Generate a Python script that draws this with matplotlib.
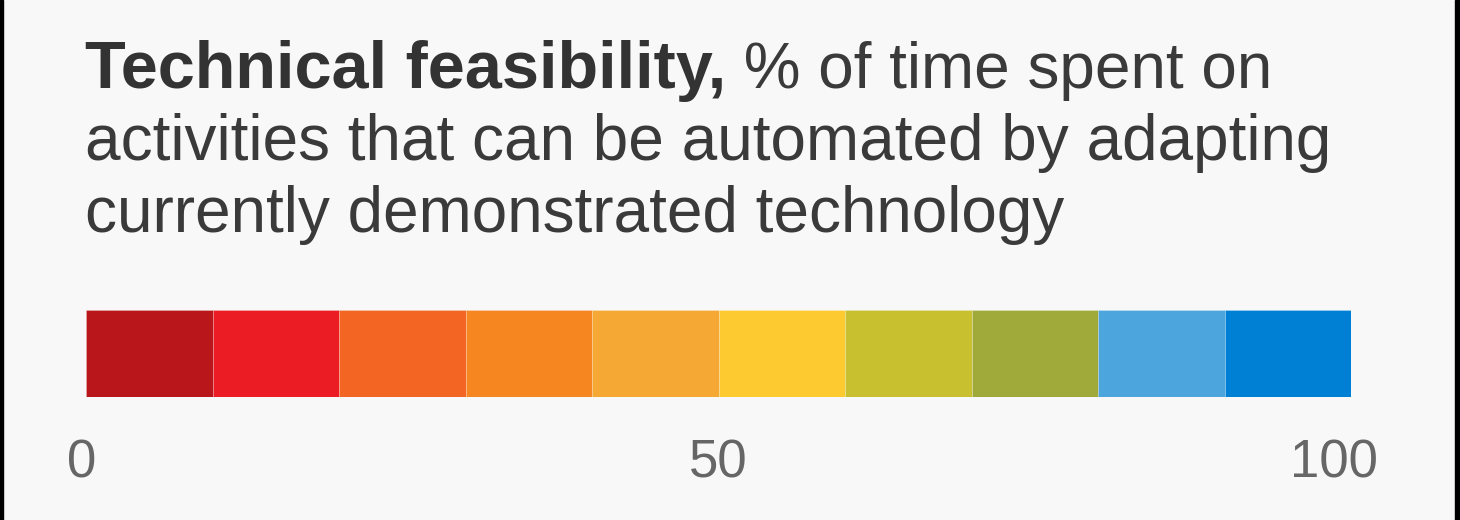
import matplotlib
matplotlib.use("Agg")
import matplotlib.pyplot as plt
from matplotlib.patches import Rectangle
from matplotlib.transforms import offset_copy

plt.rcParams['font.family'] = ['Liberation Sans', 'DejaVu Sans']

# feasibility bins (% of time automatable) and their colours
bin_starts = [0, 10, 20, 30, 40, 50, 60, 70, 80, 90]
bin_width = 10
bin_colors = ['#B9161B', '#EC1C24', '#F26522', '#F58620', '#F5A833',
              '#FDCB2F', '#C8C02E', '#A0AA3A', '#4CA6DD', '#0080D5']
tick_values = [0, 50, 100]

title_bold = "Technical feasibility,"
title_rest = [" % of time spent on",
              "activities that can be automated by adapting",
              "currently demonstrated technology"]

W, H = 1460, 520
fig = plt.figure(figsize=(W / 100, H / 100), dpi=100, facecolor='#F8F8F8')

# dark strips down both sides
fig.add_artist(Rectangle((0, 0), 3 / W, 1, transform=fig.transFigure,
                         color='black', zorder=10))
fig.add_artist(Rectangle((1455 / W, 0), 5 / W, 1, transform=fig.transFigure,
                         color='black', zorder=10))

# heading: bold lead-in, then regular text on the same line
x0 = 85 / W
t = fig.text(x0, 1 - 88 / H, title_bold, fontsize=48, fontweight='bold',
             color='#333333', va='baseline', ha='left')
fig.canvas.draw()
bb = t.get_window_extent(renderer=fig.canvas.get_renderer())
fig.text(bb.x1 / W, 1 - 88 / H, title_rest[0], fontsize=46,
         color='#3a3a3a', va='baseline', ha='left')
for i, line in enumerate(title_rest[1:]):
    fig.text(x0, 1 - (160 + 72 * i) / H, line, fontsize=46,
             color='#3a3a3a', va='baseline', ha='left')

# colour scale bar
ax = fig.add_axes([86 / W, (H - 397) / H, 1265 / W, 87 / H])
ax.barh(0, [bin_width] * len(bin_starts), left=bin_starts, height=1,
        color=bin_colors, edgecolor=(1, 1, 1, 0.25), linewidth=0.6)
ax.set_xlim(0, 100)
ax.set_ylim(-0.5, 0.5)
ax.axis('off')

label_shift = {0: -4, 50: 0, 100: -17}
for v in tick_values:
    tr = offset_copy(ax.transData, fig=fig, x=label_shift[v], y=-41, units='dots')
    ax.text(v, -0.5, str(v), transform=tr, fontsize=38, color='#666666',
            ha='center', va='top')

fig.savefig('out.png', dpi=100, facecolor=fig.get_facecolor())
